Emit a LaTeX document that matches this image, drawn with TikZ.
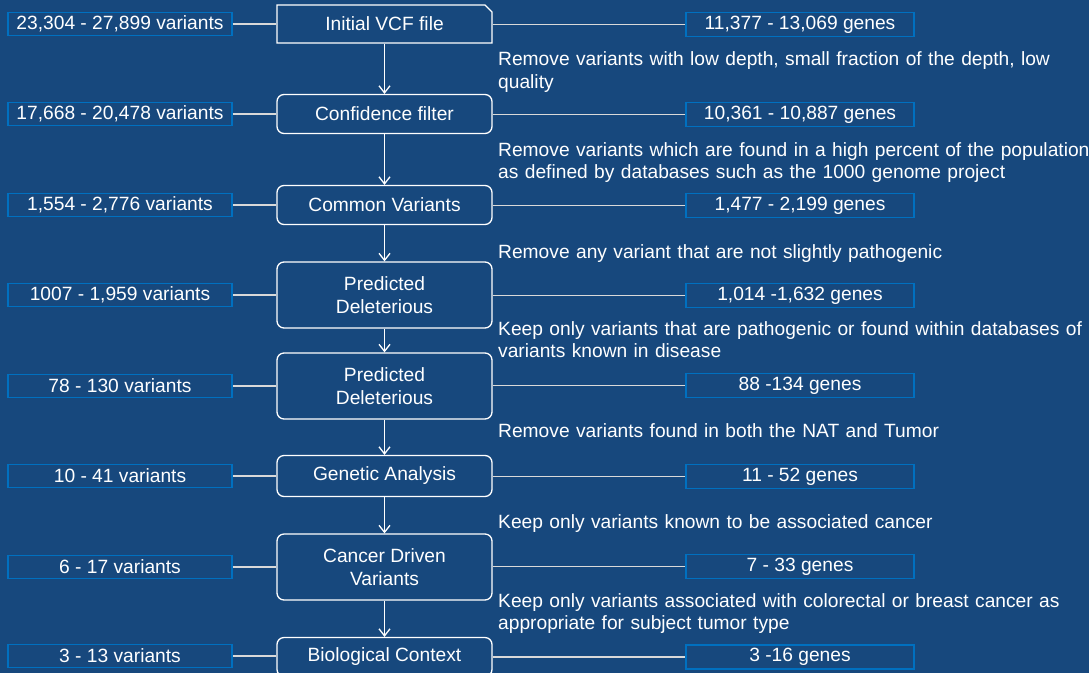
\documentclass[tikz,border=0pt]{standalone}
\usepackage{fontspec}
\setmainfont{Liberation Sans}
\usetikzlibrary{arrows.meta,shapes.misc}
\definecolor{bgblue}{HTML}{17487D}
\definecolor{sideblue}{HTML}{0070C0}
\definecolor{linegray}{HTML}{D9D9D9}
\tikzset{
  mainbox/.style={draw=white, line width=1.3pt, rounded corners=7pt, minimum width=215pt, inner sep=2pt, align=center, text=white},
  firstbox/.style={draw=white, line width=1.3pt, chamfered rectangle, chamfered rectangle corners=north east, chamfered rectangle xsep=3.5pt, chamfered rectangle ysep=3.5pt, minimum width=215pt, minimum height=38pt, inner sep=2pt, text=white},
  leftbox/.style={draw=sideblue, line width=1.6pt, minimum width=224pt, minimum height=23pt, inner sep=1pt, text=white},
  rightbox/.style={draw=sideblue, line width=1.6pt, minimum width=228pt, minimum height=24pt, inner sep=1pt, text=white},
  note/.style={anchor=base west, inner sep=0pt, text width=620pt, align=left, text=white},
  conn/.style={draw=linegray, line width=1.4pt},
  flow/.style={draw=white, line width=1.3pt, -{Straight Barb[length=7pt,width=11pt,line width=1.3pt]}},
}
\begin{document}
\begin{tikzpicture}[x=1pt,y=-1pt,font=\fontsize{19.2}{22.5}\selectfont]
\fill[bgblue] (0,0) rectangle (1089,673);
\useasboundingbox (0,0) rectangle (1089,673);

% main boxes
\node[firstbox] (m1) at (384.5,24) {Initial VCF file};
\node[mainbox, minimum height=39pt] (m2) at (384.5,114) {Confidence filter};
\node[mainbox, minimum height=39pt] (m3) at (384.5,205) {Common Variants};
\node[mainbox, minimum height=66pt] (m4) at (384.5,295) {Predicted\\Deleterious};
\node[mainbox, minimum height=66pt] (m5) at (384.5,386) {Predicted\\Deleterious};
\node[mainbox, minimum height=41pt] (m6) at (384.5,476) {Genetic Analysis};
\node[mainbox, minimum height=66pt] (m7) at (384.5,567) {Cancer Driven\\Variants};
\node[mainbox, minimum height=39pt] (m8) at (384.5,657) {Biological Context};

% left boxes
\node[leftbox] (l1) at (120,24) {23,304 - 27,899 variants};
\node[leftbox] (l2) at (120,114) {17,668 - 20,478 variants};
\node[leftbox] (l3) at (120,205) {1,554 - 2,776 variants};
\node[leftbox] (l4) at (120,295) {1007 - 1,959 variants};
\node[leftbox] (l5) at (120,386) {78 - 130 variants};
\node[leftbox] (l6) at (120,476) {10 - 41 variants};
\node[leftbox] (l7) at (120,567) {6 - 17 variants};
\node[leftbox] (l8) at (120,656) {3 - 13 variants};

% right boxes
\node[rightbox] (r1) at (800,24.5) {11,377 - 13,069 genes};
\node[rightbox] (r2) at (800,114.5) {10,361 - 10,887 genes};
\node[rightbox] (r3) at (800,205.5) {1,477 - 2,199 genes};
\node[rightbox] (r4) at (800,295.5) {1,014 -1,632 genes};
\node[rightbox] (r5) at (800,385.5) {88 -134 genes};
\node[rightbox] (r6) at (800,476.5) {11 - 52 genes};
\node[rightbox] (r7) at (800,566.5) {7 - 33 genes};
\node[rightbox] (r8) at (800,657) {3 -16 genes};

% connectors
\foreach \i in {1,...,8}{
  \draw[conn] (l\i.east) -- (l\i.east -| m\i.west);
  \draw[conn] (m\i.east |- r\i.west) -- (r\i.west);
}
\foreach \i/\j in {1/2,2/3,3/4,4/5,5/6,6/7,7/8}{
  \draw[flow] (m\i.south) -- (m\j.north);
}

% annotations
\node[note] (n1) at (498,65.7) {Remove variants with low depth, small fraction of the depth, low\\quality};
\node[note] (n2) at (498,156) {Remove variants which are found in a high percent of the population\\as defined by databases such as the 1000 genome project};
\node[note] (n3) at (498,258) {Remove any variant that are not slightly pathogenic};
\node[note] (n4) at (498,335) {Keep only variants that are pathogenic or found within databases of\\variants known in disease};
\node[note] (n5) at (498,437) {Remove variants found in both the NAT and Tumor};
\node[note] (n6) at (498,528) {Keep only variants known to be associated cancer};
\node[note] (n7) at (498,607) {Keep only variants associated with colorectal or breast cancer as\\appropriate for subject tumor type};
\end{tikzpicture}
\end{document}
